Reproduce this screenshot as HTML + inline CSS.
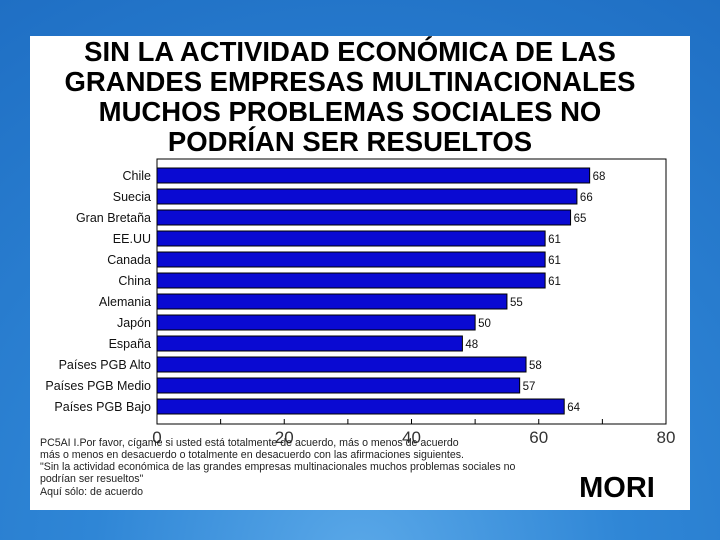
<!DOCTYPE html>
<html><head><meta charset="utf-8"><style>
body{margin:0;width:720px;height:540px;overflow:hidden;background:radial-gradient(circle at 360px 560px,#5aa8e8 0,#2f86d6 40%,#1f6fc4 100%);font-family:"Liberation Sans",sans-serif;}
</style></head><body>
<svg width="720" height="540" style="position:absolute;left:0;top:0">
<rect x="30" y="36" width="660" height="474" fill="#fff"/>
<g font-weight="bold" font-size="27.5" text-anchor="middle" fill="#000">
<text x="350" y="61">SIN LA ACTIVIDAD ECONÓMICA DE LAS</text>
<text x="350" y="91">GRANDES EMPRESAS MULTINACIONALES</text>
<text x="350" y="121">MUCHOS PROBLEMAS SOCIALES NO</text>
<text x="350" y="151">PODRÍAN SER RESUELTOS</text>
</g>
<rect x="157" y="159" width="509" height="265" fill="none" stroke="#000" stroke-width="1"/>
<g id="bars"></g>
<g font-size="10.6" fill="#222">
<text x="40" y="446">PC5AI I.Por favor, cígame si usted está totalmente de acuerdo, más o menos de acuerdo</text>
<text x="40" y="458">más o menos en desacuerdo o totalmente en desacuerdo con las afirmaciones siguientes.</text>
<text x="40" y="470">"Sin la actividad económica de las grandes empresas multinacionales muchos problemas sociales no</text>
<text x="40" y="482">podrían ser resueltos"</text>
<text x="40" y="495">Aquí sólo: de acuerdo</text>
</g>
<text x="617" y="497" font-size="29" font-weight="bold" text-anchor="middle">MORI</text>
</svg>
<script>
const categories=["Chile","Suecia","Gran Bretaña","EE.UU","Canada","China","Alemania","Japón","España","Países PGB Alto","Países PGB Medio","Países PGB Bajo"];
const values=[68,66,65,61,61,61,55,50,48,58,57,64];
const ticks=[0,20,40,60,80];
const NS="http://www.w3.org/2000/svg";
const g=document.getElementById('bars');
const x=v=>157+v*509/80;
const y=i=>168+i*21;
function mk(t,a){const e=document.createElementNS(NS,t);for(const k in a)e.setAttribute(k,a[k]);g.appendChild(e);return e;}
for(let v=10;v<80;v+=10){const t=mk('line',{x1:x(v),x2:x(v),y1:424,y2:419,stroke:'#000'});

}
categories.forEach((c,i)=>{
const r=mk('rect',{x:x(0),y:y(i),width:x(values[i])-x(0),height:15,fill:'#0a0ad2',stroke:'#000','stroke-width':1});


const l=mk('text',{x:151,y:y(i)+12,'font-size':12.5,'text-anchor':'end',fill:'#111'});l.textContent=c;


const vl=mk('text',{x:x(values[i])+3,y:y(i)+12,'font-size':11.5,fill:'#111'});vl.textContent=values[i];


});
ticks.forEach(t=>{const e=mk('text',{x:x(t),y:443,'font-size':17,'text-anchor':'middle',fill:'#333'});e.textContent=t;

});
</script>
</body></html>
